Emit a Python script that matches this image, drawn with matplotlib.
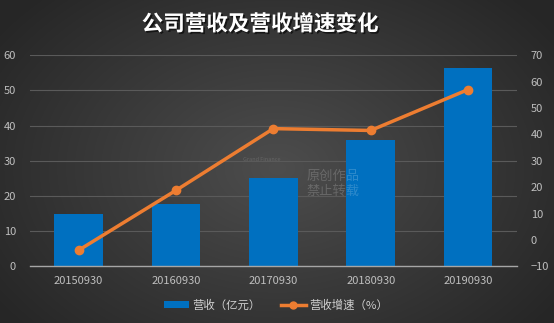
import numpy as np
import matplotlib
matplotlib.use("Agg")
import matplotlib.pyplot as plt
from matplotlib import patheffects as pe
from matplotlib.patches import Patch
from matplotlib.lines import Line2D

plt.rcParams['font.family'] = ['Noto Sans CJK SC', 'DejaVu Sans']

categories = ['20150930', '20160930', '20170930', '20180930', '20190930']
revenue = [14.8, 17.8, 25.2, 35.8, 56.4]
growth = [-3.9, 18.8, 42.2, 41.5, 57.0]
left_ticks = [0, 10, 20, 30, 40, 50, 60]
right_ticks = [-10, 0, 10, 20, 30, 40, 50, 60, 70]
title = '公司营收及营收增速变化'
label_rev = '营收（亿元）'
label_growth = '营收增速（%）'

W, H = 554, 323
fig = plt.figure(figsize=(W / 100, H / 100), dpi=100)

# background radial gradient
bg = fig.add_axes([0, 0, 1, 1], zorder=-10)
yy, xx = np.mgrid[0:H, 0:W]
cx, cy = W * 0.5, H * 0.52
r = np.sqrt(((xx - cx) / (W * 0.62)) ** 2 + ((yy - cy) / (H * 0.75)) ** 2)
r = np.clip(r, 0, 1)
inner = np.array([0x4d, 0x4d, 0x4d]) / 255
outer = np.array([0x26, 0x26, 0x26]) / 255
img = inner[None, None, :] * (1 - r[..., None]) + outer[None, None, :] * r[..., None]
bg.imshow(img, aspect='auto', extent=[0, 1, 0, 1], origin='upper')
bg.set_axis_off()

ax = fig.add_axes([30 / W, 1 - 266.3 / H, (516.7 - 30) / W, (266.3 - 55.3) / H])
ax.patch.set_alpha(0)
x = np.arange(len(categories))
ax.bar(x, revenue, width=0.5, color='#0070C0', zorder=3)
ax.set_xlim(-0.5, len(categories) - 0.5)
ax.set_ylim(0, 60)
ax.set_yticks(left_ticks)
ax.set_xticks(x)
ax.set_xticklabels(categories)
ax.grid(axis='y', color='#5a5a5a', linewidth=0.8, zorder=0)
for s in ['top', 'right', 'left']:
    ax.spines[s].set_visible(False)
ax.spines['bottom'].set_color('#a6a6a6')
ax.spines['bottom'].set_linewidth(1.0)
ax.spines['bottom'].set_zorder(5)
ax.tick_params(axis='both', length=0, colors='#bfbfbf', labelsize=8)
ax.tick_params(axis='y', pad=10)
ax.tick_params(axis='x', pad=7)

ax2 = ax.twinx()
ax2.plot(x, growth, color='#ED7D31', linewidth=2.5, marker='o', markersize=6, zorder=4,
         solid_capstyle='round')
ax2.set_ylim(-10, 70)
ax2.set_yticks(right_ticks)
for s in ax2.spines.values():
    s.set_visible(False)
ax2.tick_params(axis='y', length=0, colors='#bfbfbf', labelsize=8, pad=10)

# watermark
fig.text(333 / W, 1 - 176 / H, '原创作品', color='#ffffff', alpha=0.18, fontsize=9.5,
         ha='center', va='center')
fig.text(333 / W, 1 - 191 / H, '禁止转载', color='#ffffff', alpha=0.18, fontsize=9.5,
         ha='center', va='center')
fig.text(262 / W, 1 - 160 / H, 'Grand Finance', color='#ffffff', alpha=0.15, fontsize=4,
         ha='center', va='center')

t = fig.text(260 / W, 1 - 24 / H, title, color='white', fontsize=15.5, fontweight='bold',
             ha='center', va='center')
t.set_path_effects([pe.withSimplePatchShadow(offset=(1.2, -1.2), shadow_rgbFace='black', alpha=0.6)])

handles = [Patch(facecolor='#0070C0', edgecolor='none'),
           Line2D([0], [0], color='#ED7D31', linewidth=2.5, marker='o', markersize=5)]
leg = fig.legend(handles, [label_rev, label_growth], loc='center', bbox_to_anchor=(276 / W, 1 - 305 / H),
                 ncol=2, frameon=False, fontsize=8.2, labelcolor='#d0d0d0', handlelength=2.2,
                 handleheight=0.5, columnspacing=1.8, handletextpad=0.3)

fig.savefig('out.png', dpi=100)
